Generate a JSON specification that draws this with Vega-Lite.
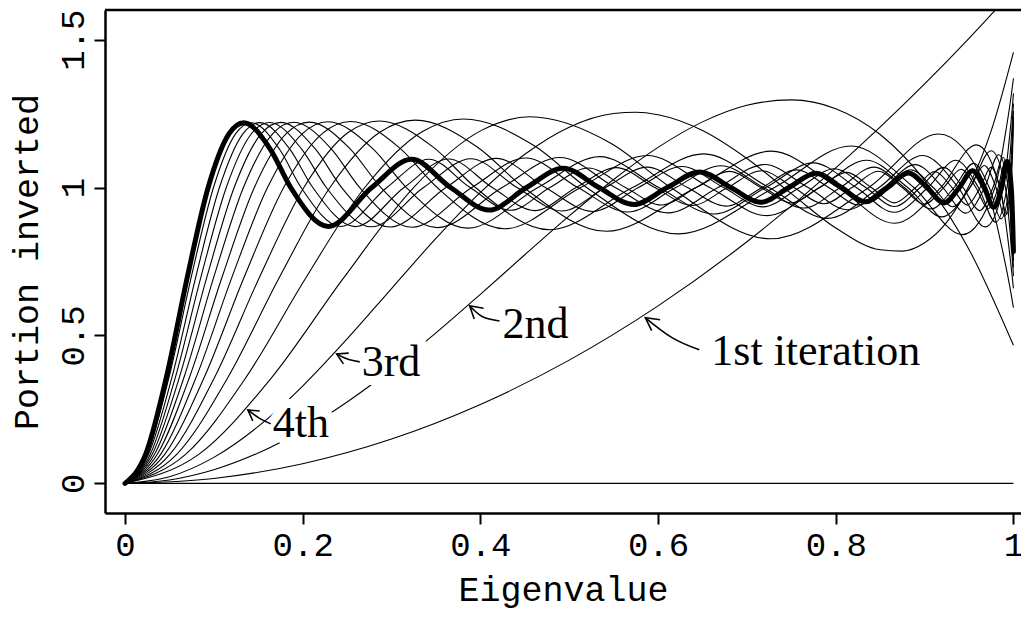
{
"$schema": "https://vega.github.io/schema/vega-lite/v6.json",
"autosize": {"type": "none"},
"padding": {"left": 105, "top": 10, "right": 0, "bottom": 104},
"width": 916,
"height": 503,
"background": "white",
"config": {"view": {"stroke": null}},
"datasets": {
"thin": [
{"n":0,"x":0,"y":0},{"n":0,"x":1,"y":0},
{"n":1,"x":0,"y":0},{"n":1,"x":0.1,"y":0.0167},{"n":1,"x":0.2,"y":0.0667},{"n":1,"x":0.3,"y":0.15},{"n":1,"x":0.4,"y":0.2667},{"n":1,"x":0.5,"y":0.4167},{"n":1,"x":0.6,"y":0.6},{"n":1,"x":0.7,"y":0.8167},{"n":1,"x":0.8,"y":1.0667},{"n":1,"x":0.9,"y":1.35},{"n":1,"x":0.95,"y":1.5042},{"n":1,"x":1,"y":1.6667},
{"n":2,"x":0,"y":0},{"n":2,"x":0.05,"y":0.0116},{"n":2,"x":0.1,"y":0.0462},{"n":2,"x":0.15,"y":0.1029},{"n":2,"x":0.2,"y":0.1799},{"n":2,"x":0.25,"y":0.2753},{"n":2,"x":0.3,"y":0.386},{"n":2,"x":0.35,"y":0.5086},{"n":2,"x":0.4,"y":0.6391},{"n":2,"x":0.45,"y":0.7728},{"n":2,"x":0.5,"y":0.9042},{"n":2,"x":0.55,"y":1.0273},{"n":2,"x":0.6,"y":1.1357},{"n":2,"x":0.65,"y":1.2219},{"n":2,"x":0.7,"y":1.2782},{"n":2,"x":0.75,"y":1.2961},{"n":2,"x":0.8,"y":1.2663},{"n":2,"x":0.85,"y":1.1792},{"n":2,"x":0.9,"y":1.0244},{"n":2,"x":0.95,"y":0.7907},{"n":2,"x":1,"y":0.4667},
{"n":3,"x":0,"y":0},{"n":3,"x":0.05,"y":0.0224},{"n":3,"x":0.1,"y":0.088},{"n":3,"x":0.15,"y":0.1926},{"n":3,"x":0.2,"y":0.3291},{"n":3,"x":0.25,"y":0.4882},{"n":3,"x":0.3,"y":0.6586},{"n":3,"x":0.35,"y":0.8279},{"n":3,"x":0.4,"y":0.9833},{"n":3,"x":0.45,"y":1.1123},{"n":3,"x":0.5,"y":1.204},{"n":3,"x":0.55,"y":1.25},{"n":3,"x":0.575,"y":1.2542},{"n":3,"x":0.6,"y":1.2458},{"n":3,"x":0.65,"y":1.1925},{"n":3,"x":0.7,"y":1.098},{"n":3,"x":0.75,"y":0.9792},{"n":3,"x":0.8,"y":0.8632},{"n":3,"x":0.85,"y":0.7895},{"n":3,"x":0.875,"y":0.7852},{"n":3,"x":0.9,"y":0.8132},{"n":3,"x":0.925,"y":0.883},{"n":3,"x":0.95,"y":1.0057},{"n":3,"x":0.975,"y":1.1923},{"n":3,"x":1,"y":1.4571},
{"n":4,"x":0,"y":0},{"n":4,"x":0.0826,"y":0.0972},{"n":4,"x":0.1646,"y":0.356},{"n":4,"x":0.2455,"y":0.692},{"n":4,"x":0.3248,"y":1},{"n":4,"x":0.4017,"y":1.194},{"n":4,"x":0.4557,"y":1.2391},{"n":4,"x":0.5472,"y":1.149},{"n":4,"x":0.6143,"y":1},{"n":4,"x":0.7266,"y":0.8267},{"n":4,"x":0.8372,"y":1},{"n":4,"x":0.9158,"y":1.181},{"n":4,"x":0.9697,"y":1},{"n":4,"x":0.9859,"y":0.812},{"n":4,"x":0.9965,"y":0.655},{"n":4,"x":1,"y":0.594},
{"n":5,"x":0,"y":0},{"n":5,"x":0.0682,"y":0.0979},{"n":5,"x":0.1362,"y":0.3583},{"n":5,"x":0.2035,"y":0.6945},{"n":5,"x":0.2699,"y":1},{"n":5,"x":0.3349,"y":1.1892},{"n":5,"x":0.3809,"y":1.2318},{"n":5,"x":0.4603,"y":1.1419},{"n":5,"x":0.5196,"y":1},{"n":5,"x":0.6225,"y":0.8433},{"n":5,"x":0.731,"y":1},{"n":5,"x":0.817,"y":1.1402},{"n":5,"x":0.8879,"y":1},{"n":5,"x":0.9425,"y":0.8407},{"n":5,"x":0.9792,"y":1},{"n":5,"x":0.9903,"y":1.1701},{"n":5,"x":0.9976,"y":1.3135},{"n":5,"x":1,"y":1.3694},
{"n":6,"x":0,"y":0},{"n":6,"x":0.0582,"y":0.0984},{"n":6,"x":0.1161,"y":0.3596},{"n":6,"x":0.1737,"y":0.696},{"n":6,"x":0.2307,"y":1},{"n":6,"x":0.2868,"y":1.1867},{"n":6,"x":0.3268,"y":1.2277},{"n":6,"x":0.3961,"y":1.138},{"n":6,"x":0.4489,"y":1},{"n":6,"x":0.5417,"y":0.852},{"n":6,"x":0.6428,"y":1},{"n":6,"x":0.7275,"y":1.1229},{"n":6,"x":0.8023,"y":1},{"n":6,"x":0.866,"y":0.8791},{"n":6,"x":0.9183,"y":1},{"n":6,"x":0.9582,"y":1.1443},{"n":6,"x":0.9848,"y":1},{"n":6,"x":0.993,"y":0.8434},{"n":6,"x":0.9982,"y":0.7108},{"n":6,"x":1,"y":0.659},
{"n":7,"x":0,"y":0},{"n":7,"x":0.0507,"y":0.0987},{"n":7,"x":0.1012,"y":0.3606},{"n":7,"x":0.1514,"y":0.697},{"n":7,"x":0.2013,"y":1},{"n":7,"x":0.2507,"y":1.185},{"n":7,"x":0.2859,"y":1.2251},{"n":7,"x":0.3473,"y":1.1356},{"n":7,"x":0.3944,"y":1},{"n":7,"x":0.478,"y":0.8572},{"n":7,"x":0.5713,"y":1},{"n":7,"x":0.6514,"y":1.1137},{"n":7,"x":0.7248,"y":1},{"n":7,"x":0.7908,"y":0.8957},{"n":7,"x":0.8487,"y":1},{"n":7,"x":0.8979,"y":1.1084},{"n":7,"x":0.9379,"y":1},{"n":7,"x":0.9682,"y":0.8669},{"n":7,"x":0.9886,"y":1},{"n":7,"x":0.9947,"y":1.1458},{"n":7,"x":0.9987,"y":1.2698},{"n":7,"x":1,"y":1.3183},
{"n":8,"x":0,"y":0},{"n":8,"x":0.0449,"y":0.099},{"n":8,"x":0.0896,"y":0.3612},{"n":8,"x":0.1342,"y":0.6975},{"n":8,"x":0.1786,"y":1},{"n":8,"x":0.2226,"y":1.184},{"n":8,"x":0.254,"y":1.2233},{"n":8,"x":0.309,"y":1.1341},{"n":8,"x":0.3514,"y":1},{"n":8,"x":0.4273,"y":0.8605},{"n":8,"x":0.5129,"y":1},{"n":8,"x":0.5878,"y":1.1081},{"n":8,"x":0.6581,"y":1},{"n":8,"x":0.7228,"y":0.9049},{"n":8,"x":0.7818,"y":1},{"n":8,"x":0.8346,"y":1.0923},{"n":8,"x":0.8809,"y":1},{"n":8,"x":0.9197,"y":0.9007},{"n":8,"x":0.9511,"y":1},{"n":8,"x":0.9749,"y":1.1243},{"n":8,"x":0.991,"y":1},{"n":8,"x":0.9958,"y":0.8629},{"n":8,"x":0.999,"y":0.7462},{"n":8,"x":1,"y":0.7005},
{"n":9,"x":0,"y":0},{"n":9,"x":0.0403,"y":0.0991},{"n":9,"x":0.0805,"y":0.3617},{"n":9,"x":0.1205,"y":0.698},{"n":9,"x":0.1604,"y":1},{"n":9,"x":0.2,"y":1.1832},{"n":9,"x":0.2284,"y":1.2222},{"n":9,"x":0.2783,"y":1.133},{"n":9,"x":0.3167,"y":1},{"n":9,"x":0.3859,"y":0.8627},{"n":9,"x":0.4648,"y":1},{"n":9,"x":0.5345,"y":1.1044},{"n":9,"x":0.6008,"y":1},{"n":9,"x":0.6633,"y":0.9106},{"n":9,"x":0.7212,"y":1},{"n":9,"x":0.7747,"y":1.0833},{"n":9,"x":0.8231,"y":1},{"n":9,"x":0.866,"y":0.9162},{"n":9,"x":0.9038,"y":1},{"n":9,"x":0.9351,"y":1.0921},{"n":9,"x":0.9606,"y":1},{"n":9,"x":0.98,"y":0.883},{"n":9,"x":0.9927,"y":1},{"n":9,"x":0.9981,"y":1.1908},{"n":9,"x":1,"y":1.2838},
{"n":10,"x":0,"y":0},{"n":10,"x":0.0365,"y":0.0992},{"n":10,"x":0.073,"y":0.362},{"n":10,"x":0.1094,"y":0.6983},{"n":10,"x":0.1456,"y":1},{"n":10,"x":0.1817,"y":1.1827},{"n":10,"x":0.2075,"y":1.2212},{"n":10,"x":0.2529,"y":1.1322},{"n":10,"x":0.2881,"y":1},{"n":10,"x":0.3517,"y":0.8644},{"n":10,"x":0.4245,"y":1},{"n":10,"x":0.4895,"y":1.1017},{"n":10,"x":0.5518,"y":1},{"n":10,"x":0.6112,"y":0.9145},{"n":10,"x":0.6675,"y":1},{"n":10,"x":0.7199,"y":1.0776},{"n":10,"x":0.7689,"y":1},{"n":10,"x":0.8133,"y":0.925},{"n":10,"x":0.8538,"y":1},{"n":10,"x":0.8894,"y":1.0773},{"n":10,"x":0.9205,"y":1},{"n":10,"x":0.9465,"y":0.9135},{"n":10,"x":0.9676,"y":1},{"n":10,"x":0.9834,"y":1.111},{"n":10,"x":0.9941,"y":1},{"n":10,"x":0.9984,"y":0.8183},{"n":10,"x":1,"y":0.7297},
{"n":11,"x":0,"y":0},{"n":11,"x":0.0334,"y":0.0993},{"n":11,"x":0.0668,"y":0.3622},{"n":11,"x":0.1001,"y":0.6986},{"n":11,"x":0.1333,"y":1},{"n":11,"x":0.1664,"y":1.1823},{"n":11,"x":0.19,"y":1.2206},{"n":11,"x":0.2319,"y":1.1316},{"n":11,"x":0.2642,"y":1},{"n":11,"x":0.3229,"y":0.8656},{"n":11,"x":0.3904,"y":1},{"n":11,"x":0.4511,"y":1.0999},{"n":11,"x":0.5097,"y":1},{"n":11,"x":0.5659,"y":0.9172},{"n":11,"x":0.6199,"y":1},{"n":11,"x":0.6709,"y":1.0737},{"n":11,"x":0.7188,"y":1},{"n":11,"x":0.7638,"y":0.9306},{"n":11,"x":0.8052,"y":1},{"n":11,"x":0.8429,"y":1.0688},{"n":11,"x":0.8771,"y":1},{"n":11,"x":0.9072,"y":0.9277},{"n":11,"x":0.9332,"y":1},{"n":11,"x":0.9553,"y":1.0818},{"n":11,"x":0.9728,"y":1},{"n":11,"x":0.9861,"y":0.8942},{"n":11,"x":0.9952,"y":1},{"n":11,"x":0.9987,"y":1.1737},{"n":11,"x":1,"y":1.2585},
{"n":12,"x":0,"y":0},{"n":12,"x":0.0308,"y":0.0993},{"n":12,"x":0.0616,"y":0.3624},{"n":12,"x":0.0923,"y":0.6988},{"n":12,"x":0.1229,"y":1},{"n":12,"x":0.1534,"y":1.1819},{"n":12,"x":0.1754,"y":1.2201},{"n":12,"x":0.214,"y":1.1312},{"n":12,"x":0.2439,"y":1},{"n":12,"x":0.2983,"y":0.8665},{"n":12,"x":0.3613,"y":1},{"n":12,"x":0.418,"y":1.0984},{"n":12,"x":0.4731,"y":1},{"n":12,"x":0.5264,"y":0.9192},{"n":12,"x":0.5779,"y":1},{"n":12,"x":0.6271,"y":1.0709},{"n":12,"x":0.6737,"y":1},{"n":12,"x":0.7179,"y":0.9345},{"n":12,"x":0.7595,"y":1},{"n":12,"x":0.7983,"y":1.0634},{"n":12,"x":0.8337,"y":1},{"n":12,"x":0.866,"y":0.9359},{"n":12,"x":0.8952,"y":1},{"n":12,"x":0.9211,"y":1.0682},{"n":12,"x":0.9433,"y":1},{"n":12,"x":0.9619,"y":0.9221},{"n":12,"x":0.9769,"y":1},{"n":12,"x":0.9883,"y":1.1013},{"n":12,"x":0.9957,"y":1},{"n":12,"x":0.9989,"y":0.8333},{"n":12,"x":1,"y":0.7518},
{"n":13,"x":0,"y":0},{"n":13,"x":0.0286,"y":0.0994},{"n":13,"x":0.0571,"y":0.3625},{"n":13,"x":0.0856,"y":0.699},{"n":13,"x":0.114,"y":1},{"n":13,"x":0.1423,"y":1.1817},{"n":13,"x":0.1627,"y":1.2197},{"n":13,"x":0.1986,"y":1.1308},{"n":13,"x":0.2266,"y":1},{"n":13,"x":0.2773,"y":0.8672},{"n":13,"x":0.3361,"y":1},{"n":13,"x":0.3893,"y":1.0973},{"n":13,"x":0.4412,"y":1},{"n":13,"x":0.4918,"y":0.9208},{"n":13,"x":0.5408,"y":1},{"n":13,"x":0.5878,"y":1.0688},{"n":13,"x":0.6331,"y":1},{"n":13,"x":0.6762,"y":0.9373},{"n":13,"x":0.7171,"y":1},{"n":13,"x":0.7558,"y":1.0595},{"n":13,"x":0.792,"y":1},{"n":13,"x":0.8257,"y":0.9413},{"n":13,"x":0.8567,"y":1},{"n":13,"x":0.8845,"y":1.0603},{"n":13,"x":0.9097,"y":1},{"n":13,"x":0.9319,"y":0.9352},{"n":13,"x":0.9511,"y":1},{"n":13,"x":0.9672,"y":1.0746},{"n":13,"x":0.9803,"y":1},{"n":13,"x":0.9901,"y":0.9027},{"n":13,"x":0.9963,"y":1},{"n":13,"x":0.9991,"y":1.1605},{"n":13,"x":1,"y":1.239},
{"n":14,"x":0,"y":0},{"n":14,"x":0.0266,"y":0.0994},{"n":14,"x":0.0532,"y":0.3626},{"n":14,"x":0.0798,"y":0.6991},{"n":14,"x":0.1063,"y":1},{"n":14,"x":0.1327,"y":1.1815},{"n":14,"x":0.1517,"y":1.2193},{"n":14,"x":0.1853,"y":1.1305},{"n":14,"x":0.2114,"y":1},{"n":14,"x":0.2589,"y":0.8678},{"n":14,"x":0.3141,"y":1},{"n":14,"x":0.3643,"y":1.0964},{"n":14,"x":0.4134,"y":1},{"n":14,"x":0.4612,"y":0.922},{"n":14,"x":0.5078,"y":1},{"n":14,"x":0.5529,"y":1.0672},{"n":14,"x":0.5964,"y":1},{"n":14,"x":0.6383,"y":0.9395},{"n":14,"x":0.6783,"y":1},{"n":14,"x":0.7165,"y":1.0567},{"n":14,"x":0.7526,"y":1},{"n":14,"x":0.7866,"y":0.9451},{"n":14,"x":0.8183,"y":1},{"n":14,"x":0.8478,"y":1.055},{"n":14,"x":0.8749,"y":1},{"n":14,"x":0.8995,"y":0.943},{"n":14,"x":0.9215,"y":1},{"n":14,"x":0.941,"y":1.0618},{"n":14,"x":0.9577,"y":1},{"n":14,"x":0.9716,"y":0.9284},{"n":14,"x":0.9828,"y":1},{"n":14,"x":0.9912,"y":1.0939},{"n":14,"x":0.9968,"y":1},{"n":14,"x":0.9992,"y":0.845},{"n":14,"x":1,"y":0.7693},
{"n":15,"x":0,"y":0},{"n":15,"x":0.0249,"y":0.0994},{"n":15,"x":0.0499,"y":0.3627},{"n":15,"x":0.0747,"y":0.6992},{"n":15,"x":0.0996,"y":1},{"n":15,"x":0.1244,"y":1.1813},{"n":15,"x":0.1422,"y":1.2191},{"n":15,"x":0.1737,"y":1.1303},{"n":15,"x":0.1982,"y":1},{"n":15,"x":0.2428,"y":0.8683},{"n":15,"x":0.2948,"y":1},{"n":15,"x":0.342,"y":1.0957},{"n":15,"x":0.3884,"y":1},{"n":15,"x":0.4339,"y":0.923},{"n":15,"x":0.4783,"y":1},{"n":15,"x":0.5214,"y":1.0659},{"n":15,"x":0.5633,"y":1},{"n":15,"x":0.6038,"y":0.9411},{"n":15,"x":0.6428,"y":1},{"n":15,"x":0.6802,"y":1.0545},{"n":15,"x":0.7159,"y":1},{"n":15,"x":0.7498,"y":0.9479},{"n":15,"x":0.7818,"y":1},{"n":15,"x":0.812,"y":1.0512},{"n":15,"x":0.84,"y":1},{"n":15,"x":0.866,"y":0.9481},{"n":15,"x":0.8899,"y":1},{"n":15,"x":0.9115,"y":1.0543},{"n":15,"x":0.9309,"y":1},{"n":15,"x":0.9479,"y":0.9407},{"n":15,"x":0.9626,"y":1},{"n":15,"x":0.9749,"y":1.069},{"n":15,"x":0.9848,"y":1},{"n":15,"x":0.9922,"y":0.9093},{"n":15,"x":0.9972,"y":1},{"n":15,"x":0.9993,"y":1.15},{"n":15,"x":1,"y":1.2233}
],
"bold": [
{"n":16,"x":0,"y":0},{"n":16,"x":0.0234,"y":0.0995},{"n":16,"x":0.0469,"y":0.3628},{"n":16,"x":0.0703,"y":0.6993},{"n":16,"x":0.0936,"y":1},{"n":16,"x":0.117,"y":1.1812},{"n":16,"x":0.1337,"y":1.2189},{"n":16,"x":0.1634,"y":1.1301},{"n":16,"x":0.1865,"y":1},{"n":16,"x":0.2287,"y":0.8687},{"n":16,"x":0.2777,"y":1},{"n":16,"x":0.3225,"y":1.0952},{"n":16,"x":0.3665,"y":1},{"n":16,"x":0.4097,"y":0.9237},{"n":16,"x":0.452,"y":1},{"n":16,"x":0.4933,"y":1.0649},{"n":16,"x":0.5335,"y":1},{"n":16,"x":0.5725,"y":0.9424},{"n":16,"x":0.6103,"y":1},{"n":16,"x":0.6468,"y":1.0529},{"n":16,"x":0.6818,"y":1},{"n":16,"x":0.7154,"y":0.9501},{"n":16,"x":0.7473,"y":1},{"n":16,"x":0.7777,"y":1.0484},{"n":16,"x":0.8063,"y":1},{"n":16,"x":0.8332,"y":0.9518},{"n":16,"x":0.8585,"y":1},{"n":16,"x":0.8816,"y":1.0492},{"n":16,"x":0.9027,"y":1},{"n":16,"x":0.9219,"y":0.948},{"n":16,"x":0.939,"y":1},{"n":16,"x":0.954,"y":1.0571},{"n":16,"x":0.967,"y":1},{"n":16,"x":0.9779,"y":0.9333},{"n":16,"x":0.9866,"y":1},{"n":16,"x":0.9931,"y":1.0879},{"n":16,"x":0.9975,"y":1},{"n":16,"x":0.9994,"y":0.8546},{"n":16,"x":1,"y":0.7835}
],
"labels": [
{"label":"1st iteration","x":0.6599,"y":0.4007},
{"label":"2nd","x":0.425,"y":0.492},
{"label":"3rd","x":0.2664,"y":0.3635},
{"label":"4th","x":0.1664,"y":0.1573}
],
"shafts": [
{"a":"s1","o":1,"x":0.5857,"y":0.5597},{"a":"s1","o":2,"x":0.6161,"y":0.492},{"a":"s1","o":3,"x":0.6464,"y":0.4515},
{"a":"s2","o":1,"x":0.3879,"y":0.6003},{"a":"s2","o":2,"x":0.4025,"y":0.5631},{"a":"s2","o":3,"x":0.4216,"y":0.549},
{"a":"s3","o":1,"x":0.2383,"y":0.4379},{"a":"s3","o":2,"x":0.2496,"y":0.421},{"a":"s3","o":3,"x":0.2642,"y":0.4108},
{"a":"s4","o":1,"x":0.1383,"y":0.2486},{"a":"s4","o":2,"x":0.1506,"y":0.2215},{"a":"s4","o":3,"x":0.1641,"y":0.2012}
],
"heads": [
{"a":"h1","o":1,"x":0.5928,"y":0.5161},{"a":"h1","o":2,"x":0.5857,"y":0.5597},{"a":"h1","o":3,"x":0.6024,"y":0.5533},
{"a":"h2","o":1,"x":0.3931,"y":0.5555},{"a":"h2","o":2,"x":0.3879,"y":0.6003},{"a":"h2","o":3,"x":0.4036,"y":0.5918},
{"a":"h3","o":1,"x":0.2458,"y":0.4041},{"a":"h3","o":2,"x":0.2383,"y":0.4379},{"a":"h3","o":3,"x":0.2518,"y":0.4403},
{"a":"h4","o":1,"x":0.1438,"y":0.2113},{"a":"h4","o":2,"x":0.1383,"y":0.2486},{"a":"h4","o":3,"x":0.1517,"y":0.2445}
],
"frame": [
{"x":-0.0225,"x2":1.0085,"y":1.6}
]
},
"encoding": {
"x": {"field":"x","type":"quantitative","title":"Eigenvalue",
"scale":{"domain":[-0.0225,1.0085],"nice":false,"zero":false},
"axis":{"values":[0,0.2,0.4,0.6,0.8,1],"format":".1~f","grid":false,"domainColor":"black","domainWidth":2.5,"tickColor":"black","tickWidth":2,"tickSize":11,"labelFont":"Liberation Mono","labelFontSize":34,"labelColor":"black","labelPadding":4,"labelFlush":false,"titleFont":"Liberation Mono","titleFontSize":35,"titleFontWeight":"normal","titleColor":"black","titlePadding":10}},
"y": {"field":"y","type":"quantitative","title":"Portion inverted",
"scale":{"domain":[-0.1,1.6],"nice":false,"zero":false},
"axis":{"values":[0,0.5,1,1.5],"format":".1~f","grid":false,"domainColor":"black","domainWidth":2.5,"tickColor":"black","tickWidth":2,"tickSize":11,"labelFont":"Liberation Mono","labelFontSize":34,"labelColor":"black","labelAngle":270,"labelAlign":"center","labelBaseline":"alphabetic","labelPadding":11,"labelFlush":false,"titleFont":"Liberation Mono","titleFontSize":35,"titleFontWeight":"normal","titleColor":"black","titlePadding":12}}
},
"layer": [
{"data":{"name":"thin"},"mark":{"type":"line","interpolate":"monotone","color":"black","strokeWidth":1.1,"clip":true},"encoding":{"detail":{"field":"n","type":"nominal"}}},
{"data":{"name":"bold"},"mark":{"type":"line","interpolate":"monotone","color":"black","strokeWidth":5,"strokeCap":"round","strokeJoin":"round","clip":true},"encoding":{}},
{"data":{"name":"labels"},"mark":{"type":"text","font":"Liberation Serif","fontSize":44,"align":"left","baseline":"alphabetic","fill":"white","stroke":"white","strokeWidth":18,"strokeJoin":"round"},"encoding":{"text":{"field":"label"}}},
{"data":{"name":"labels"},"mark":{"type":"text","font":"Liberation Serif","fontSize":44,"align":"left","baseline":"alphabetic","color":"black"},"encoding":{"text":{"field":"label"}}},
{"data":{"name":"shafts"},"mark":{"type":"line","interpolate":"cardinal","color":"black","strokeWidth":1.6},"encoding":{"detail":{"field":"a","type":"nominal"},"order":{"field":"o","type":"quantitative"}}},
{"data":{"name":"heads"},"mark":{"type":"line","interpolate":"linear","color":"black","strokeWidth":1.6},"encoding":{"detail":{"field":"a","type":"nominal"},"order":{"field":"o","type":"quantitative"}}},
{"data":{"name":"frame"},"mark":{"type":"rule","color":"black","strokeWidth":2.5},"encoding":{"x2":{"field":"x2"}}}
]
}
